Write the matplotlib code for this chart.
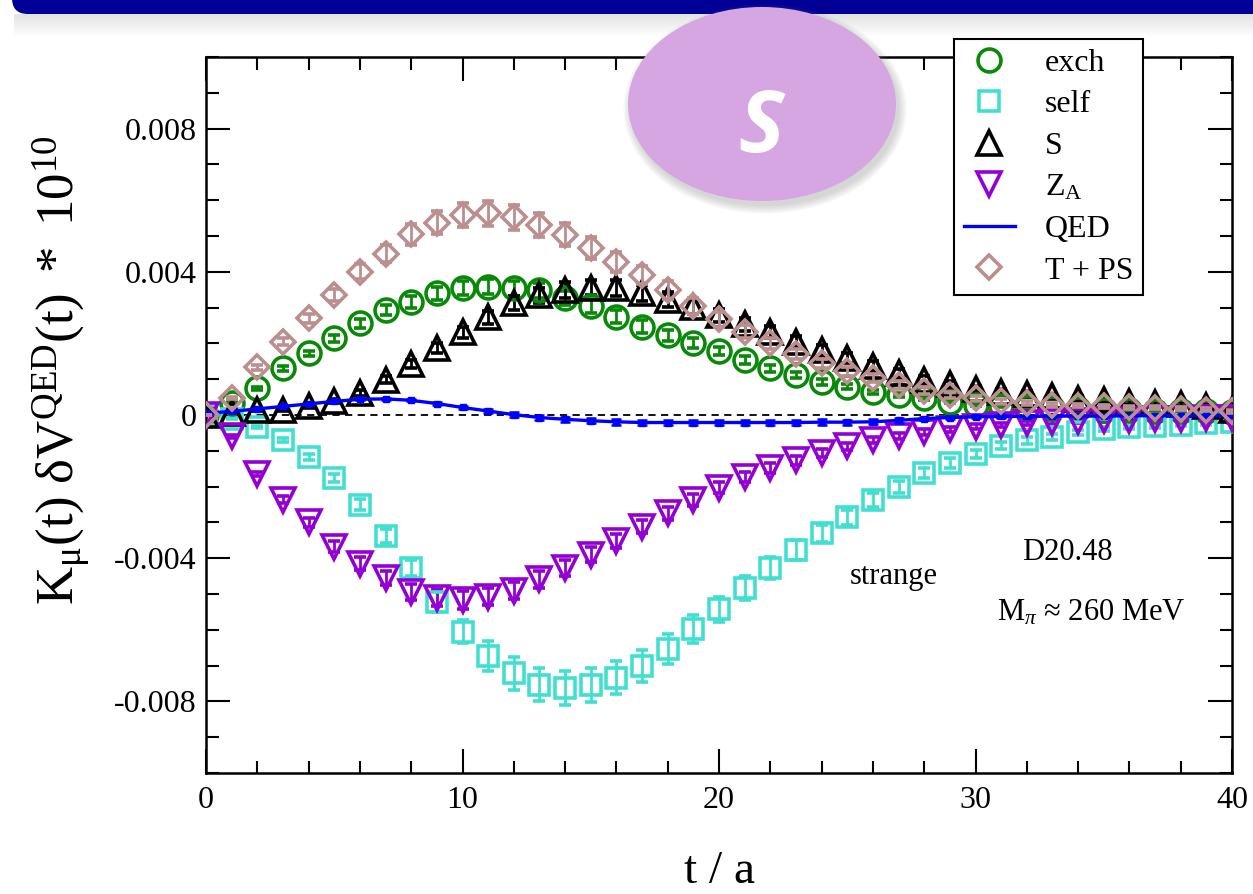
import numpy as np
import matplotlib
matplotlib.use("Agg")
import matplotlib.pyplot as plt
from matplotlib.lines import Line2D
from matplotlib.patches import Ellipse, FancyBboxPatch, Rectangle
from matplotlib.ticker import MultipleLocator

plt.rcParams['font.family'] = ['Liberation Serif', 'DejaVu Serif']
plt.rcParams['mathtext.fontset'] = 'custom'
plt.rcParams['mathtext.rm'] = 'Liberation Serif'
plt.rcParams['mathtext.it'] = 'Liberation Serif:italic'
plt.rcParams['mathtext.bf'] = 'Liberation Serif:bold'

# data, values in units of 1e-3
t = np.arange(0, 41)
exch = [0.00, 0.33, 0.75, 1.30, 1.72, 2.14, 2.56, 2.93, 3.16, 3.40,
        3.55, 3.58, 3.54, 3.48, 3.27, 3.04, 2.75, 2.47, 2.23, 2.02,
        1.79, 1.54, 1.30, 1.12, 0.93, 0.79, 0.65, 0.56, 0.47, 0.37,
        0.28, 0.24, 0.21, 0.19, 0.17, 0.15, 0.13, 0.12, 0.11, 0.10, 0.09]
exch_err = [0.00, 0.02, 0.04, 0.06, 0.08, 0.10, 0.12, 0.14, 0.16, 0.18,
            0.20, 0.21, 0.21, 0.21, 0.20, 0.19, 0.18, 0.17, 0.15, 0.14,
            0.12, 0.11, 0.10, 0.09, 0.08, 0.07, 0.06, 0.05, 0.05, 0.04,
            0.04, 0.03, 0.03, 0.03, 0.03, 0.02, 0.02, 0.02, 0.02, 0.02, 0.02]
self_e = [0.00, -0.10, -0.33, -0.70, -1.18, -1.77, -2.51, -3.38, -4.28, -5.21,
          -6.05, -6.73, -7.22, -7.54, -7.63, -7.54, -7.34, -7.01, -6.54, -5.99,
          -5.43, -4.84, -4.27, -3.77, -3.30, -2.85, -2.37, -2.01, -1.62, -1.34,
          -1.10, -0.86, -0.71, -0.61, -0.48, -0.40, -0.34, -0.31, -0.27, -0.23, -0.19]
self_err = [0.00, 0.01, 0.03, 0.05, 0.08, 0.11, 0.15, 0.19, 0.23, 0.28,
            0.33, 0.41, 0.46, 0.46, 0.48, 0.47, 0.46, 0.44, 0.41, 0.39,
            0.36, 0.33, 0.30, 0.27, 0.24, 0.21, 0.19, 0.17, 0.15, 0.13,
            0.11, 0.10, 0.09, 0.08, 0.07, 0.06, 0.06, 0.05, 0.05, 0.04, 0.04]
s_ins = [0.00, 0.05, 0.14, 0.15, 0.25, 0.40, 0.62, 0.98, 1.42, 1.88,
         2.31, 2.73, 3.12, 3.35, 3.49, 3.56, 3.54, 3.40, 3.22, 3.03,
         2.78, 2.54, 2.31, 2.04, 1.81, 1.58, 1.37, 1.16, 0.98, 0.86,
         0.73, 0.65, 0.59, 0.52, 0.46, 0.42, 0.37, 0.33, 0.30, 0.26, 0.15]
s_err = [0.00, 0.02, 0.03, 0.04, 0.05, 0.06, 0.08, 0.10, 0.12, 0.14,
         0.16, 0.18, 0.20, 0.21, 0.22, 0.22, 0.22, 0.22, 0.21, 0.20,
         0.19, 0.18, 0.17, 0.16, 0.15, 0.14, 0.13, 0.12, 0.11, 0.10,
         0.09, 0.08, 0.08, 0.07, 0.07, 0.06, 0.06, 0.06, 0.05, 0.05, 0.05]
za = [0.00, -0.60, -1.65, -2.37, -3.00, -3.68, -4.15, -4.55, -4.94, -5.10,
      -5.17, -5.07, -4.91, -4.59, -4.27, -3.90, -3.52, -3.12, -2.74, -2.38,
      -2.03, -1.74, -1.48, -1.27, -1.06, -0.87, -0.70, -0.58, -0.48, -0.40,
      -0.33, -0.27, -0.23, -0.20, -0.17, -0.15, -0.13, -0.11, -0.10, -0.09, -0.08]
za_err = [0.00, 0.03, 0.06, 0.10, 0.13, 0.16, 0.18, 0.20, 0.22, 0.23,
          0.24, 0.24, 0.24, 0.23, 0.22, 0.21, 0.20, 0.19, 0.18, 0.16,
          0.15, 0.14, 0.13, 0.12, 0.11, 0.10, 0.09, 0.08, 0.08, 0.07,
          0.07, 0.06, 0.06, 0.05, 0.05, 0.05, 0.04, 0.04, 0.04, 0.04, 0.04]
qed = [0.05, 0.10, 0.17, 0.24, 0.31, 0.38, 0.44, 0.45, 0.41, 0.32,
       0.21, 0.11, 0.01, -0.07, -0.12, -0.16, -0.19, -0.21, -0.21, -0.21,
       -0.21, -0.21, -0.21, -0.21, -0.20, -0.20, -0.19, -0.15, -0.10, -0.07,
       -0.05, -0.04, -0.04, -0.03, -0.03, -0.03, -0.02, -0.02, -0.02, -0.01, -0.01]
qed_err = [0.00, 0.01, 0.01, 0.01, 0.02, 0.02, 0.02, 0.03, 0.03, 0.04,
           0.05, 0.05, 0.06, 0.06, 0.07, 0.07, 0.08, 0.08, 0.08, 0.08,
           0.08, 0.08, 0.08, 0.08, 0.08, 0.07, 0.07, 0.06, 0.05, 0.04,
           0.04, 0.03, 0.03, 0.03, 0.02, 0.02, 0.02, 0.02, 0.02, 0.02, 0.02]
tps = [0.00, 0.47, 1.33, 2.05, 2.70, 3.35, 4.00, 4.51, 5.05, 5.37,
       5.59, 5.63, 5.52, 5.31, 5.03, 4.66, 4.28, 3.91, 3.49, 3.04,
       2.67, 2.33, 2.00, 1.70, 1.44, 1.22, 1.03, 0.84, 0.68, 0.56,
       0.47, 0.38, 0.33, 0.28, 0.26, 0.24, 0.22, 0.20, 0.18, 0.15, 0.10]
tps_err = [0.00, 0.03, 0.07, 0.10, 0.13, 0.17, 0.21, 0.25, 0.29, 0.32,
           0.34, 0.35, 0.35, 0.34, 0.32, 0.30, 0.28, 0.26, 0.24, 0.22,
           0.20, 0.18, 0.16, 0.14, 0.13, 0.12, 0.11, 0.10, 0.09, 0.08,
           0.07, 0.06, 0.06, 0.05, 0.05, 0.05, 0.04, 0.04, 0.04, 0.04, 0.04]

labels = ['exch', 'self', 'S', r'$\mathrm{Z_A}$', 'QED', 'T + PS']
ytick_vals = [-0.008, -0.004, 0.0, 0.004, 0.008]
ytick_labels = ['-0.008', '-0.004', '0', '0.004', '0.008']
xtick_vals = [0, 10, 20, 30, 40]

W, H = 1253, 894
fig = plt.figure(figsize=(W / 100, H / 100), dpi=100)
ax = fig.add_axes([206 / W, 1 - 773 / H, 1026 / W, 716 / H])

ax.axhline(0, color='black', ls=(0, (4, 3)), lw=1.3, zorder=1)

sc = 1e-3
# (values, errors, marker, colour, markersize)
series = [
    (exch, exch_err, 'o', '#088a08', 16.5),
    (self_e, self_err, 's', '#40e0d0', 15),
    (s_ins, s_err, '^', 'black', 17),
    (za, za_err, 'v', '#9400d3', 17),
]
handles = []
for vals, errs, mk, col, ms in series:
    ax.errorbar(t, np.array(vals) * sc, yerr=np.array(errs) * sc, fmt=mk, ms=ms,
                mfc='none', mec=col, mew=2.6, ecolor=col, elinewidth=2,
                capsize=4, capthick=2, zorder=3)
    handles.append(Line2D([], [], ls='none', marker=mk, ms=ms, mfc='none',
                          mec=col, mew=2.6))

ax.errorbar(t, np.array(qed) * sc, yerr=np.array(qed_err) * sc, fmt='-s',
            color='#0000ff', lw=2.4, ms=5, ecolor='#0000ff', elinewidth=1.8,
            capsize=3.5, capthick=1.8, zorder=4)
handles.append(Line2D([], [], color='#0000ff', lw=2.4))

ax.errorbar(t, np.array(tps) * sc, yerr=np.array(tps_err) * sc, fmt='D', ms=12,
            mfc='none', mec='#bc8f8f', mew=2.6, ecolor='#bc8f8f', elinewidth=2,
            capsize=4, capthick=2, zorder=5)
handles.append(Line2D([], [], ls='none', marker='D', ms=12, mfc='none',
                      mec='#bc8f8f', mew=2.6))

ax.set_xlim(0, 40)
ax.set_ylim(-0.010, 0.010)
ax.set_xticks(xtick_vals)
ax.xaxis.set_minor_locator(MultipleLocator(2))
ax.set_yticks(ytick_vals)
ax.set_yticklabels(ytick_labels)
ax.yaxis.set_minor_locator(MultipleLocator(0.001))
ax.tick_params(which='both', direction='in', top=True, right=True,
               labelsize=23, width=1.5)
ax.tick_params(which='major', length=17)
ax.tick_params(which='minor', length=9)
ax.tick_params(axis='x', pad=9)
ax.tick_params(axis='y', pad=7)
for sp in ax.spines.values():
    sp.set_linewidth(1.8)

ax.set_xlabel('t / a', fontsize=34)
ax.xaxis.set_label_coords(0.5, -0.108)
ax.set_ylabel(r'$\mathrm{K_{\mu}(t)\ \delta V^{QED}(t)\ *\ 10^{10}}$', fontsize=38)
ax.yaxis.set_label_coords(-0.111, 0.563)

ax.text(26.8, -0.00452, 'strange', fontsize=22, ha='center', va='center')
ax.text(33.6, -0.00385, 'D20.48', fontsize=22, ha='center', va='center')
ax.text(34.5, -0.00553, r'M$_\pi$ ≈ 260 MeV', fontsize=22, ha='center', va='center')

leg = fig.legend(handles, labels, loc='upper left',
                 bbox_to_anchor=(954 / W, 1 - 39 / H), frameon=True,
                 fancybox=False, edgecolor='black', framealpha=1, fontsize=23,
                 handlelength=1.6, handletextpad=0.95, labelspacing=0.38,
                 borderpad=0.3, borderaxespad=0)
leg.get_frame().set_linewidth(1.5)

# decorations from the slide: top banner and the "S" badge
ov = fig.add_axes([0, 0, 1, 1], zorder=10)
ov.set_xlim(0, W)
ov.set_ylim(H, 0)
ov.axis('off')
ov.patch.set_alpha(0)
for k in range(11):
    ov.add_patch(Rectangle((14, 14 + 2 * k), W, 2, fc='gray', ec='none',
                           alpha=0.22 * (1 - k / 11)))
ov.add_patch(FancyBboxPatch((12, -40), W + 40, 54,
                            boxstyle='round,pad=0,rounding_size=16',
                            fc='#000096', ec='none'))
for k in range(6):
    ov.add_patch(Ellipse((765, 109), 268 + 3 * k, 194 + 3 * k, fc='gray',
                         ec='none', alpha=0.06))
ov.add_patch(Ellipse((762, 104), 268, 194, fc='#d5a6e2', ec='none'))
ov.text(761, 152, 'S', color='white', fontsize=62, fontweight='bold',
        family='Open Sans', style='italic', ha='center', va='baseline')

fig.savefig('out.png', dpi=100)
